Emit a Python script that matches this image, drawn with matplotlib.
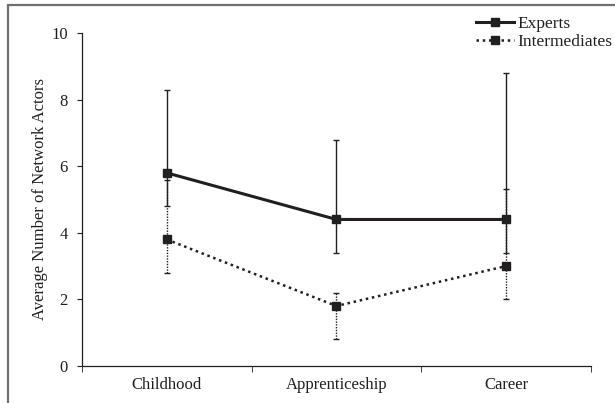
import matplotlib
matplotlib.use('Agg')
import matplotlib.pyplot as plt
import numpy as np

plt.rcParams['font.family'] = ['Liberation Serif', 'DejaVu Serif']

# data
stages = ['Childhood', 'Apprenticeship', 'Career']
experts = [5.8, 4.4, 4.4]
experts_lo = [1.0, 1.0, 1.0]
experts_hi = [2.5, 2.4, 4.4]
inter = [3.8, 1.8, 3.0]
inter_lo = [1.0, 1.0, 1.0]
inter_hi = [1.8, 0.4, 2.3]

col = '#231f20'
x = np.arange(len(stages))

fig = plt.figure(figsize=(6.15, 4.03), dpi=100)
ax = fig.add_axes([0.133, 0.092, 0.828, 0.826])

# experts
e1 = ax.errorbar(x, experts, yerr=[experts_lo, experts_hi], color=col, lw=2.2,
                 marker='s', ms=6, elinewidth=1.0, capsize=2.5, capthick=1.0,
                 label='Experts', zorder=3)
# intermediates, dotted
e2 = ax.errorbar(x, inter, yerr=[inter_lo, inter_hi], color=col, lw=1.8,
                 ls=(0, (1, 1.5)), marker='s', ms=6, elinewidth=1.0,
                 capsize=2.5, capthick=1.0, label='Intermediates', zorder=3)
for c in e2[2]:
    c.set_linestyle((0, (1, 1)))

ax.set_xlim(-0.5, 2.5)
ax.set_ylim(0, 10)
ax.set_yticks([0, 2, 4, 6, 8, 10])
ax.set_xticks(x)
ax.set_xticklabels(stages)
ax.set_xticks([-0.5, 0.5, 1.5, 2.5], minor=True)
ax.tick_params(axis='x', which='major', length=0, labelsize=12, pad=8, colors=col)
ax.tick_params(axis='x', which='minor', length=4, direction='out', color=col)
ax.tick_params(axis='y', length=3.6, direction='out', labelsize=12, pad=6.5, colors=col)
for s in ['top', 'right']:
    ax.spines[s].set_visible(False)
for s in ['left', 'bottom']:
    ax.spines[s].set_color(col)
    ax.spines[s].set_linewidth(0.9)

ax.set_ylabel('Average Number of Network Actors', fontsize=12, color=col, labelpad=2)

# legend without the error bars
leg = ax.legend(handles=[e1[0], e2[0]], labels=['Experts', 'Intermediates'],
                loc='upper right', bbox_to_anchor=(612 / 615, 1 - 16 / 403),
                bbox_transform=fig.transFigure, frameon=False, fontsize=12.5,
                handlelength=2.2, handletextpad=0.15, labelspacing=0.1,
                borderpad=0, borderaxespad=0)
for t in leg.get_texts():
    t.set_color(col)

# grey frame; only top and left edges fall inside the picture
fig.patches.append(plt.Rectangle((8 / 615, -0.05), 1.2, 1.05 - 5 / 403,
                                 transform=fig.transFigure, fill=False,
                                 edgecolor='#707070', lw=1.6))

fig.savefig('out.png', dpi=100)
